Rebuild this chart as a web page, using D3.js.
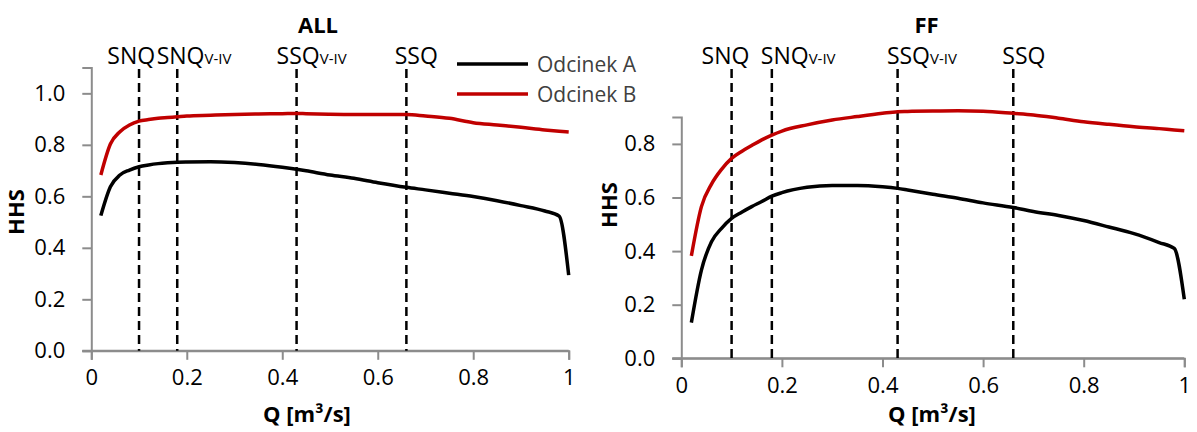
<!DOCTYPE html>
<html>
<head>
<meta charset="utf-8">
<script src="https://cdn.jsdelivr.net/npm/d3@7"></script>
<style>
	body { margin: 0; background: #fff; }
	svg text { font-family: "Open Sans", sans-serif; }
</style>
</head>
<body>
<svg id="chart" width="1197" height="432"></svg>
<script>

// data
var q = [0.02,0.04,0.06,0.08,0.10,0.12,0.14,0.16,0.18,0.20,0.25,0.30,0.35,0.40,0.43,0.45,0.50,0.55,0.60,0.66,0.70,0.75,0.80,0.85,0.90,0.95,0.98,1.00];

var allA = [0.525,0.637,0.683,0.702,0.715,0.722,0.727,0.730,0.732,0.733,0.734,0.731,0.724,0.713,0.705,0.699,0.683,0.670,0.653,0.635,0.625,0.612,0.599,0.583,0.564,0.543,0.523,0.294];
var allB = [0.683,0.803,0.851,0.877,0.892,0.898,0.903,0.906,0.909,0.912,0.915,0.918,0.920,0.921,0.922,0.921,0.919,0.918,0.918,0.918,0.912,0.903,0.886,0.877,0.868,0.858,0.853,0.850];
var ffA = [0.133,0.329,0.435,0.485,0.522,0.545,0.566,0.585,0.605,0.618,0.638,0.645,0.645,0.640,0.634,0.628,0.612,0.597,0.580,0.563,0.548,0.533,0.514,0.490,0.465,0.432,0.410,0.220];
var ffB = [0.382,0.566,0.650,0.705,0.746,0.772,0.794,0.815,0.833,0.848,0.871,0.889,0.902,0.914,0.920,0.921,0.923,0.924,0.922,0.914,0.908,0.896,0.883,0.873,0.864,0.857,0.852,0.849];

var seriesNames = ["Odcinek A", "Odcinek B"];
var seriesColors = ["#000000", "#c00000"];

var refQ = [0.10, 0.18, 0.43, 0.66];
var refMain = ["SNQ", "SNQ", "SSQ", "SSQ"];
var refSub = ["", "V-IV", "V-IV", ""];

var xTicks = [0, 0.2, 0.4, 0.6, 0.8, 1];
var yTicksAll = [0, 0.2, 0.4, 0.6, 0.8, 1.0];
var yTicksFF = [0, 0.2, 0.4, 0.6, 0.8];


// layout
var panels = [
	{ title: "ALL", a: allA, b: allB, yMax: 1.1, yTicks: yTicksAll,
	  x0: 91.3, x1: 568.7, y0: 350.8, y1: 67.6, titleX: 318,
	  labelDx: [-31.7, -20.6, -20, -11.7], hhsX: 24, hhsY: 212, qX: 307 },
	{ title: "FF", a: ffA, b: ffB, yMax: 0.9, yTicks: yTicksFF,
	  x0: 681.3, x1: 1184.3, y0: 358.3, y1: 117.1, titleX: 926.5,
	  labelDx: [-30, -11, -10.7, -11], hhsX: 617, hhsY: 205, qX: 932 }
];

var svg = d3.select("#chart");

panels.forEach(function(p){

	var x = d3.scaleLinear().domain([0, 1]).range([p.x0, p.x1]);
	var y = d3.scaleLinear().domain([0, p.yMax]).range([p.y0, p.y1]);
	var g = svg.append("g");

	// title
	g.append("text")
		.attr("x", p.titleX).attr("y", 33)
		.attr("text-anchor", "middle")
		.attr("font-weight", "bold")
		.attr("font-size", 22)
		.text(p.title)
		;

	// axes
	var xAxis = g.append("g")
		.attr("transform", "translate(0," + p.y0 + ")")
		.call(d3.axisBottom(x).tickValues(xTicks).tickSize(9).tickPadding(10)
			.tickFormat(function(d){ return d === 0 || d === 1 ? d : d3.format(".1f")(d); }))
		;
	var yAxis = g.append("g")
		.attr("transform", "translate(" + p.x0 + ",0)")
		.call(d3.axisLeft(y).tickValues(p.yTicks).tickSize(9).tickPadding(17)
			.tickFormat(d3.format(".1f")))
		;
	[xAxis, yAxis].forEach(function(a){
		a.attr("font-size", 22).attr("font-family", "Open Sans");
		a.select(".domain").attr("stroke", "#8c8c8c").attr("stroke-width", 2);
		a.selectAll(".tick line").attr("stroke", "#8c8c8c").attr("stroke-width", 2);
		a.selectAll(".tick text").attr("fill", "#000");
	});
	// axis line through 0 extends left past the y tick
	g.append("line")
		.attr("x1", p.x0 - 9).attr("x2", p.x1)
		.attr("y1", p.y0).attr("y2", p.y0)
		.attr("stroke", "#8c8c8c").attr("stroke-width", 2)
		;

	// axis titles
	g.append("text")
		.attr("transform", "translate(" + p.hhsX + "," + p.hhsY + ") rotate(-90)")
		.attr("text-anchor", "middle")
		.attr("font-weight", "bold")
		.attr("font-size", 22)
		.text("HHS")
		;
	g.append("text")
		.attr("x", p.qX).attr("y", 422)
		.attr("text-anchor", "middle")
		.attr("font-weight", "bold")
		.attr("font-size", 22)
		.text("Q [m³/s]")
		;

	// reference lines
	g.selectAll(".ref").data(refQ).enter()
		.append("line").attr("class", "ref")
		.attr("x1", function(d){ return x(d); })
		.attr("x2", function(d){ return x(d); })
		.attr("y1", 69).attr("y2", p.y0)
		.attr("stroke", "#000")
		.attr("stroke-width", 2.5)
		.attr("stroke-dasharray", "9,5")
		;
	var lbl = g.selectAll(".reflabel").data(refQ).enter()
		.append("text").attr("class", "reflabel")
		.attr("x", function(d, i){ return x(d) + p.labelDx[i]; })
		.attr("y", 64)
		.attr("font-size", 23)
		;
	lbl.append("tspan").text(function(d, i){ return refMain[i]; });
	lbl.append("tspan").attr("font-size", 15).text(function(d, i){ return refSub[i]; });

	// series
	var line = d3.line()
		.x(function(d){ return x(d[0]); })
		.y(function(d){ return y(d[1]); })
		.curve(d3.curveMonotoneX)
		;
	[p.a, p.b].forEach(function(vals, si){
		g.append("path")
			.datum(q.map(function(d, i){ return [d, vals[i]]; }))
			.attr("d", line)
			.attr("fill", "none")
			.attr("stroke", seriesColors[si])
			.attr("stroke-width", 3.5)
			.attr("stroke-linejoin", "round")
			;
	});
});


// legend
var leg = svg.append("g").attr("transform", "translate(457,64)");
seriesNames.forEach(function(n, i){
	leg.append("line")
		.attr("x1", 0).attr("x2", 71)
		.attr("y1", i * 30).attr("y2", i * 30)
		.attr("stroke", seriesColors[i])
		.attr("stroke-width", 3.5)
		;
	leg.append("text")
		.attr("x", 80).attr("y", i * 30 + 8)
		.attr("font-size", 21)
		.attr("fill", "#404040")
		.text(n)
		;
});

</script>
</body>
</html>
